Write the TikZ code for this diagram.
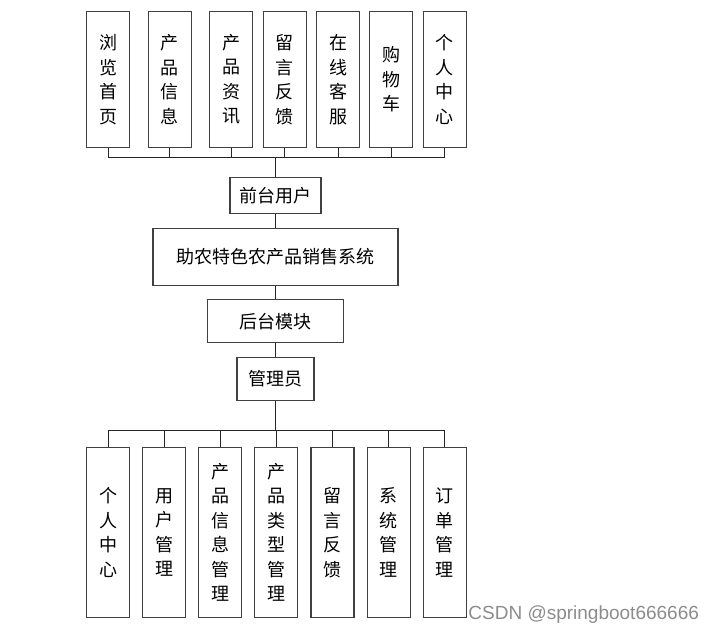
\documentclass[tikz,border=0pt]{standalone}
\usepackage{fontspec}
\setmainfont{Noto Sans CJK SC}
\newfontfamily\latinsans{Liberation Sans}
\usepackage{tikz}
\usetikzlibrary{positioning}

\begin{document}
\begin{tikzpicture}[
  x=1pt, y=-1pt,
  font=\fontsize{18}{24.5}\selectfont,
  box/.style    = {rectangle, draw=black!75, line width=1.1pt, inner sep=0pt, align=center},
  item/.style   = {box, minimum width=43pt},
  topitem/.style = {item, minimum height=136pt},
  botitem/.style = {item, minimum height=170pt},
  module/.style = {box},
  link/.style   = {draw=black!85, line width=1pt},
  watermark/.style = {font=\latinsans\fontsize{19}{20}\selectfont, text=black!45, inner sep=0pt},
  node distance=13.5pt,
]
  \useasboundingbox (0,0) rectangle (717,636);

  % front-end functions
  \node[topitem] (t1) at (108,79.5)   {浏\\览\\首\\页};
  \node[topitem] (t2) at (169.7,79.5) {产\\品\\信\\息};
  \node[topitem] (t3) at (231.3,79.5) {产\\品\\资\\讯};
  \node[topitem] (t4) at (284.7,79.5) {留\\言\\反\\馈};
  \node[topitem] (t5) at (338,79.5)   {在\\线\\客\\服};
  \node[topitem] (t6) at (391.3,79.5) {购\\物\\车};
  \node[topitem] (t7) at (444.7,79.5) {个\\人\\中\\心};

  % centre column
  \node[module, minimum width=91pt, minimum height=36pt] (front) at (275.5,195.5) {前台用户};
  \node[module, minimum width=245pt, minimum height=57pt, below=of front] (sys) {助农特色农产品销售系统};
  \node[module, minimum width=136pt, minimum height=43pt, below=of sys] (back) {后台模块};
  \node[module, minimum width=77pt, minimum height=43pt, below=of back] (admin) {管理员};

  % back-end functions
  \node[botitem] (b1) at (108,532.5)   {个\\人\\中\\心};
  \node[botitem] (b2) at (164,532.5)   {用\\户\\管\\理};
  \node[botitem] (b3) at (220.3,532.5) {产\\品\\信\\息\\管\\理};
  \node[botitem] (b4) at (276.3,532.5) {产\\品\\类\\型\\管\\理};
  \node[botitem] (b5) at (332.5,532.5) {留\\言\\反\\馈};
  \node[botitem] (b6) at (388.7,532.5) {系\\统\\管\\理};
  \node[botitem] (b7) at (444.7,532.5) {订\\单\\管\\理};

  \coordinate[above=19.7pt of front.north] (topbus);
  \coordinate[below=30pt of admin.south] (botbus);

  \draw[link] (front.north) -- (topbus);
  \draw[link] (t1.south) |- (topbus);
  \draw[link] (t2.south) |- (topbus);
  \draw[link] (t3.south) |- (topbus);
  \draw[link] (t4.south) |- (topbus);
  \draw[link] (t5.south) |- (topbus);
  \draw[link] (t6.south) |- (topbus);
  \draw[link] (t7.south) |- (topbus);

  \draw[link] (front) -- (sys);
  \draw[link] (sys) -- (back);
  \draw[link] (back) -- (admin);

  \draw[link] (admin.south) -- (botbus);
  \draw[link] (b1.north) |- (botbus);
  \draw[link] (b2.north) |- (botbus);
  \draw[link] (b3.north) |- (botbus);
  \draw[link] (b4.north) |- (botbus);
  \draw[link] (b5.north) |- (botbus);
  \draw[link] (b6.north) |- (botbus);
  \draw[link] (b7.north) |- (botbus);

  \node[watermark] (csdn) at (583.7,615) {CSDN @springboot666666};
\end{tikzpicture}
\end{document}
